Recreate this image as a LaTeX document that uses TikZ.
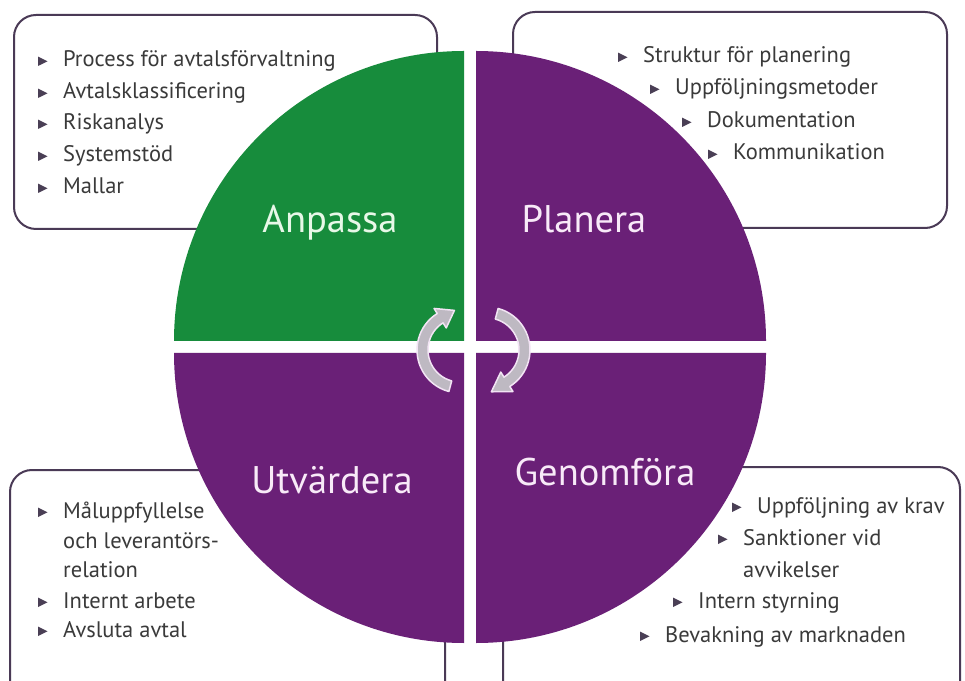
\documentclass[tikz,border=0pt]{standalone}
\usepackage{fontspec}
\setmainfont{PT Sans}
\definecolor{grn}{HTML}{178C3C}
\definecolor{pur}{HTML}{6A2077}
\definecolor{boxc}{HTML}{4A3A56}
\definecolor{txt}{HTML}{3A3A3A}
\definecolor{bulc}{HTML}{4A3F55}
\definecolor{arrf}{HTML}{BEB9C2}
\definecolor{arrd}{HTML}{F2E4F4}
\definecolor{lblg}{HTML}{E8F8E8}
\definecolor{lblp}{HTML}{F8EAF8}
\newcommand\bul[1]{\fill[bulc] ([shift={(-25,1)}]#1.base west) -- ++(9.5,4.7) -- ++(-9.5,4.7) -- cycle;}
\begin{document}
\begin{tikzpicture}[x=1pt,y=1pt,
  box/.style={draw=boxc,line width=2pt,rounded corners=22pt,fill=white},
  item/.style={anchor=base west,inner sep=0pt,text=txt,font=\fontsize{22.5}{26}\selectfont},
  lbl/.style={anchor=base,inner sep=0pt,font=\fontsize{38.5}{42}\selectfont},
  arr/.style={fill=arrf,draw=arrd,line width=1.5pt,line join=round}]
\useasboundingbox (0,0) rectangle (965,680);
\clip (0,0) rectangle (965,680);
\fill[white] (0,0) rectangle (965,680);
% boxes
\draw[box] (14,451) rectangle (437,665);
\draw[box] (513,452) rectangle (947,668);
\draw[box] (10,-40) rectangle (445,210);
\draw[box] (503,-40) rectangle (960,213);
% quadrants
\fill[grn] (464,339) -- ++(0,290pt) arc[start angle=90,end angle=180,radius=290pt] -- cycle;
\fill[pur] (476,339) -- ++(290pt,0) arc[start angle=0,end angle=90,radius=290pt] -- cycle;
\fill[pur] (476,327) -- ++(0,-290pt) arc[start angle=270,end angle=360,radius=290pt] -- cycle;
\fill[pur] (464,327) -- ++(-290pt,0) arc[start angle=180,end angle=270,radius=290pt] -- cycle;
% cycle arrows
\begin{scope}[shift={(460,330)}]
\filldraw[arr] (255:43pt) arc[start angle=255,end angle=122,radius=43pt] -- (122:49pt) -- (98:40pt) -- (122:26pt) -- (122:32pt) arc[start angle=122,end angle=255,radius=32pt] -- cycle;
\end{scope}
\begin{scope}[shift={(487,330)}]
\filldraw[arr] (75:43pt) arc[start angle=75,end angle=-58,radius=43pt] -- (-58:49pt) -- (-84:42pt) -- (-58:26pt) -- (-58:32pt) arc[start angle=-58,end angle=75,radius=32pt] -- cycle;
\end{scope}
% labels
\node[lbl,text=lblg] (anp) at (330,447) {Anpassa};
\node[lbl,text=lblp] (pla) at (584,447) {Planera};
\node[lbl,text=lblp] (utv) at (332,187) {Utvärdera};
\node[lbl,text=lblp] (gen) at (605,195) {Genomföra};
% top-left items
\node[item] (a1) at (63,613) {Process för avtalsförvaltning};
\node[item] (a2) at (63,581) {Avtalsklassificering};
\node[item] (a3) at (63,550) {Riskanalys};
\node[item] (a4) at (63,518) {Systemstöd};
\node[item] (a5) at (63,486) {Mallar};
\bul{a1}\bul{a2}\bul{a3}\bul{a4}\bul{a5}
% top-right items
\node[item] (p1) at (643,617) {Struktur för planering};
\node[item] (p2) at (675,585) {Uppföljningsmetoder};
\node[item] (p3) at (707,552) {Dokumentation};
\node[item] (p4) at (733,520) {Kommunikation};
\bul{p1}\bul{p2}\bul{p3}\bul{p4}
% bottom-left items
\node[item] (u1) at (63,162) {Måluppfyllelse};
\node[item] (u1b) at (63,132) {och leverantörs-};
\node[item] (u1c) at (63,103) {relation};
\node[item] (u2) at (63,72) {Internt arbete};
\node[item] (u3) at (63,43) {Avsluta avtal};
\bul{u1}\bul{u2}\bul{u3}
% bottom-right items
\node[item] (g1) at (757,167) {Uppföljning av krav};
\node[item] (g2) at (743,135) {Sanktioner vid};
\node[item] (g2b) at (743,103) {avvikelser};
\node[item] (g3) at (698,72) {Intern styrning};
\node[item] (g4) at (665,38) {Bevakning av marknaden};
\bul{g1}\bul{g2}\bul{g3}\bul{g4}
\end{tikzpicture}
\end{document}
